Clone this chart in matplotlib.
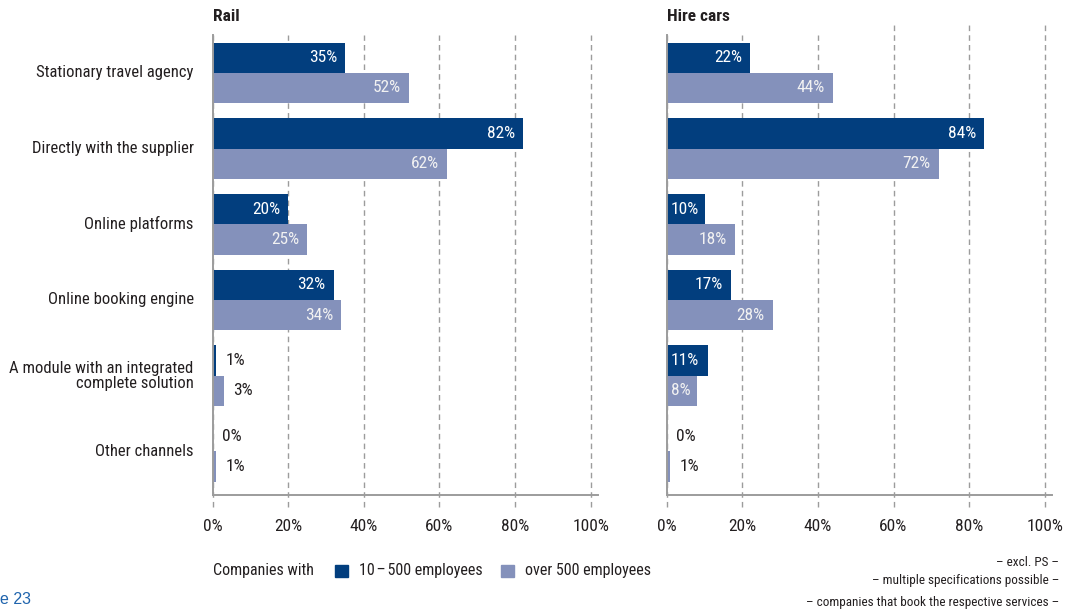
import matplotlib
matplotlib.use("Agg")
import matplotlib.pyplot as plt
from matplotlib.patches import Rectangle
from matplotlib.transforms import blended_transform_factory

# survey data: booking channels used per service
channels = [
    "Stationary travel agency",
    "Directly with the supplier",
    "Online platforms",
    "Online booking engine",
    "A module with an integrated\ncomplete solution",
    "Other channels",
]
rail_small = [35, 82, 20, 32, 1, 0]
rail_large = [52, 62, 25, 34, 3, 1]
cars_small = [22, 84, 10, 17, 11, 0]
cars_large = [44, 72, 18, 28, 8, 1]
panel_titles = ["Rail", "Hire cars"]
series_names = ["10\u200a\u2013\u200a500 employees", "over 500 employees"]
x_ticks = [0, 20, 40, 60, 80, 100]
footnotes = [
    "\u2013 excl. PS \u2013",
    "\u2013 multiple specifications possible \u2013",
    "\u2013 companies that book the respective services \u2013",
]

DARK = "#023e7e"
LIGHT = "#8491bb"
GRID = "#9c9c9c"
TEXT = "#231f20"
FONT = ["Roboto Condensed", "DejaVu Sans"]
FS = 12       # category text
FS_LEG = 11.5
FS_NUM = 12.5  # value labels and tick labels

W, H = 1068, 611
fig = plt.figure(figsize=(W / 100, H / 100), dpi=100)
plt.rcParams["font.family"] = FONT

PX = 3.78  # pixels per percentage point on the value axis
BAR_H = 0.40
PT = 0.72  # points per pixel at 100 dpi


def bar_label(ax, y, v, inside_color):
    if v < 5:
        ax.annotate(f"{v}%", (v, y), xytext=(9 * PT, 0), textcoords="offset points",
                    ha="left", va="center", color=TEXT, fontsize=FS_NUM, family=FONT)
    elif v < 13:
        ax.annotate(f"{v}%", (0, y), xytext=(4 * PT, 0), textcoords="offset points",
                    ha="left", va="center", color=inside_color, fontsize=FS_NUM, family=FONT)
    else:
        ax.annotate(f"{v}%", (v, y), xytext=(-8 * PT, 0), textcoords="offset points",
                    ha="right", va="center", color=inside_color, fontsize=FS_NUM, family=FONT)


def draw_panel(ax, small, large, title, tall_lines=()):
    ys = list(range(len(channels)))
    ax.barh([y - BAR_H / 2 for y in ys], small, height=BAR_H, color=DARK, zorder=3)
    ax.barh([y + BAR_H / 2 for y in ys], large, height=BAR_H, color=LIGHT, zorder=3)
    for y, v in zip(ys, small):
        bar_label(ax, y - BAR_H / 2, v, "white")
    for y, v in zip(ys, large):
        bar_label(ax, y + BAR_H / 2, v, "#f2f2f2")

    ax.set_xlim(0, 101.9)
    ax.set_ylim(5.576, -0.5)
    for side in ["top", "right", "left"]:
        ax.spines[side].set_visible(False)
    ax.spines["bottom"].set_color(GRID)
    ax.spines["bottom"].set_linewidth(1.4)

    # dashed guides run a little past the axis line
    tr = blended_transform_factory(ax.transData, ax.transAxes)
    for x in x_ticks:
        top = 1.028 if x in tall_lines else 1.0
        ax.plot([x, x], [-0.026, top], transform=tr, color=GRID, lw=1,
                ls=(0, (4, 3)), clip_on=False, zorder=1)
    ax.plot([0, 0], [0, 1], transform=tr, color=GRID, lw=1.4, clip_on=False, zorder=4)

    ax.set_xticks(x_ticks)
    ax.set_xticklabels([f"{t}%" for t in x_ticks], fontsize=FS_NUM, color=TEXT, family=FONT)
    ax.tick_params(axis="x", length=0, pad=17)
    ax.set_yticks([])
    ax.text(0, 1.04, title, transform=ax.transAxes, ha="left", va="center",
            fontsize=FS + 0.5, fontweight="bold", color=TEXT, family=FONT)


ax_l = fig.add_axes([212.7 / W, (H - 495) / H, 101.9 * PX / W, 460 / H])
ax_r = fig.add_axes([666.7 / W, (H - 495) / H, 101.9 * PX / W, 460 / H])
draw_panel(ax_l, rail_small, rail_large, panel_titles[0])
draw_panel(ax_r, cars_small, cars_large, panel_titles[1], tall_lines=(60, 80, 100))

for i, name in enumerate(channels):
    ax_l.annotate(name, (0, i), xytext=(-19 * PT, 0), textcoords="offset points",
                  ha="right", va="center", fontsize=FS, color=TEXT, family=FONT,
                  multialignment="right", linespacing=1.0)

# legend row
ly = 1 - 571 / H
fig.text(213 / W, ly, "Companies with", ha="left", va="center",
         fontsize=FS_LEG, color=TEXT, family=FONT)
for x0, col, name, tx in [(335, DARK, series_names[0], 359),
                          (501, LIGHT, series_names[1], 525)]:
    fig.patches.append(Rectangle((x0 / W, 1 - 577 / H), 12.5 / W, 12.5 / H,
                                 transform=fig.transFigure, color=col))
    fig.text(tx / W, ly, name, ha="left", va="center",
             fontsize=FS_LEG, color=TEXT, family=FONT)

for yy, note in zip([562.7, 580.5, 602.5], footnotes):
    fig.text(1059 / W, 1 - yy / H, note, ha="right", va="center",
             fontsize=9.5, color=TEXT, family=FONT)

fig.text(0, 1 - 600 / H, "e 23", ha="left", va="center", fontsize=11.5,
         color="#1f64ad", family=["Liberation Sans", "DejaVu Sans"])

fig.savefig("out.png", dpi=100)
